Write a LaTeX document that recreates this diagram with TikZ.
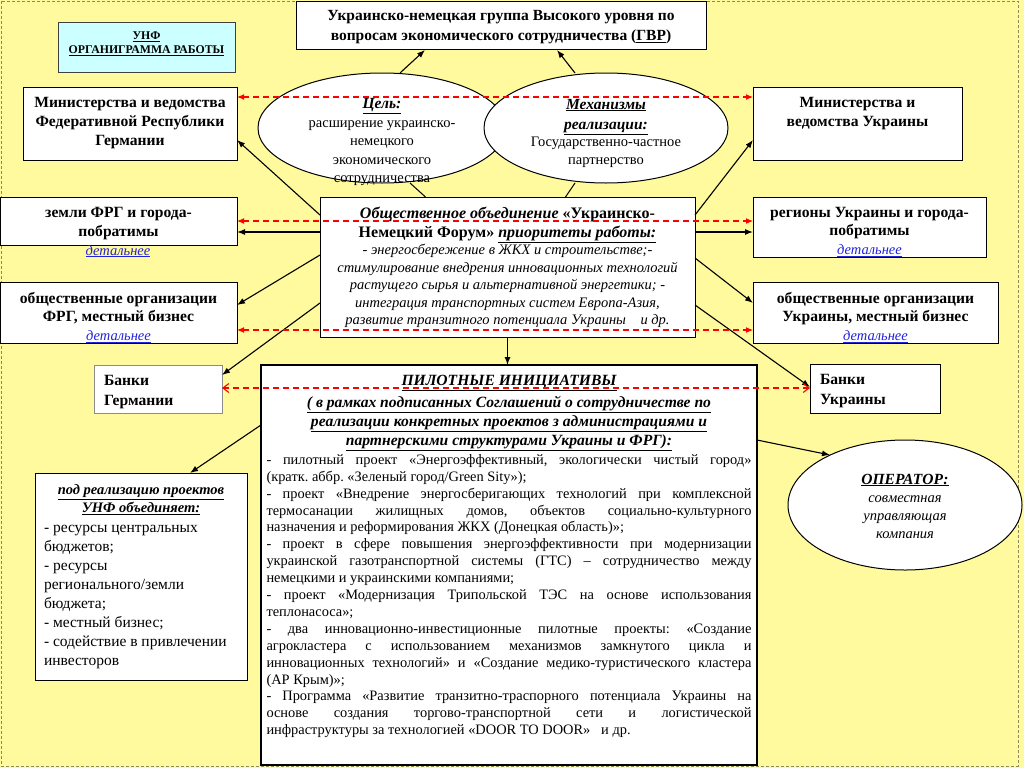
\documentclass[tikz,border=0pt]{standalone}
\usepackage{fontspec}
\setmainfont{Liberation Serif}
\usetikzlibrary{arrows.meta,shapes.geometric,calc}
\definecolor{bg}{HTML}{FFFA9E}
\definecolor{cyanbox}{HTML}{CCFFFF}
\definecolor{framecol}{HTML}{8A8A60}
\definecolor{linkblue}{HTML}{2222DD}
\newcommand{\fs}[2]{\fontsize{#1}{#2}\selectfont}
\newcommand{\tbox}[4]{\parbox[c][#2][t]{#1}{\vspace*{#3}\centering #4}}
\newcommand{\lnk}{\textcolor{linkblue}{\textit{\underline{детальнее}}}}
\newcommand{\biu}[1]{\textbf{\textit{\underline{#1}}}}
\begin{document}
\begin{tikzpicture}[x=1pt,y=-1pt,
  box/.style={draw=black, line width=1pt, fill=white, inner sep=0pt, outer sep=0pt, anchor=north west},
  ell/.style={ellipse, draw=black, line width=1pt, fill=white, inner sep=0pt, outer sep=0pt},
  etxt/.style={inner sep=0pt, align=center},
  arr/.style={-{Latex[length=8pt,width=6pt]}, line width=1.1pt, black},
  ln/.style={line width=1pt, black},
  rda/.style={{Latex[length=7pt,width=6pt]}-{Latex[length=7pt,width=6pt]}, red, dash pattern=on 6pt off 4pt, line width=1.1pt},
  rdb/.style={{Straight Barb[length=6pt,width=9pt]}-{Straight Barb[length=6pt,width=9pt]}, red, dash pattern=on 6pt off 4pt, line width=1.1pt}
]
\fill[bg] (0,0) rectangle (1024,768);
\useasboundingbox (0,0) rectangle (1024,768);
\draw[framecol, line width=0.8pt, dash pattern=on 3pt off 2pt] (1,1) rectangle (1018,766);

% boxes
\node[box, fill=cyanbox, draw=black!75] (unf) at (58,23) {\tbox{177pt}{49pt}{9pt}{\fs{11.8}{13.5}\textbf{\underline{УНФ}}\\\textbf{\underline{ОРГАНИГРАММА РАБОТЫ}}}};
\node[box] (gvr) at (296,2) {\tbox{410pt}{48pt}{8.5pt}{\fs{15.5}{20}\textbf{Украинско-немецкая группа Высокого уровня по}\\\textbf{вопросам экономического сотрудничества (\underline{ГВР})}}};
\node[box] (minFRG) at (23,87) {\tbox{214pt}{73pt}{10pt}{\fs{15.6}{19}\textbf{Министерства и ведомства}\\\textbf{Федеративной Республики}\\\textbf{Германии}}};
\node[box] (minUA) at (753,87) {\tbox{209pt}{73pt}{10pt}{\fs{15.6}{19}\textbf{Министерства и}\\\textbf{ведомства Украины}}};
\node[box] (zemli) at (0,197) {\tbox{237pt}{48pt}{10pt}{\fs{15.6}{19}\textbf{земли ФРГ и города-}\\\textbf{побратимы}}};
\node[anchor=base, inner sep=0pt, font=\fs{14.5}{17}] (linkZ) at (118,255) {\lnk};
\node[box] (obFRG) at (0,282) {\tbox{237pt}{61pt}{10pt}{\fs{15.6}{18.7}\textbf{общественные организации}\\\textbf{ФРГ, местный бизнес}\\{\fs{14.5}{18.5}\lnk}}};
\node[box, draw=black!45] (bankDE) at (94,365) {\parbox[c][48pt][t]{128pt}{\vspace*{10pt}\raggedright\fs{15.6}{20}\hspace*{10pt}\textbf{Банки}\\\hspace*{10pt}\textbf{Германии}}};
\node[box] (regions) at (753,197) {\tbox{233pt}{60pt}{10pt}{\fs{15.6}{18.7}\textbf{регионы Украины и города-}\\\textbf{побратимы}\\{\fs{14.5}{18.5}\lnk}}};
\node[box] (obUA) at (753,282) {\tbox{245pt}{61pt}{10pt}{\fs{15.6}{18.7}\textbf{общественные организации}\\\textbf{Украины, местный бизнес}\\{\fs{14.5}{18.5}\lnk}}};
\node[box] (bankUA) at (810,364) {\parbox[c][49pt][t]{130pt}{\vspace*{10pt}\raggedright\fs{15.6}{20}\hspace*{10pt}\textbf{Банки}\\\hspace*{10pt}\textbf{Украины}}};

\node[box] (forum) at (320,197) {\parbox[c][140pt][t]{375pt}{\vspace*{10pt}\centering
\fs{16}{19}\textbf{\textit{Общественное объединение} «Украинско-}\\
\textbf{Немецкий Форум» \textit{\underline{приоритеты работы:}}}\\
\fs{14.5}{17.5}\itshape - энергосбережение в ЖКХ и строительстве;-\\стимулирование внедрения инновационных технологий\\растущего сырья и альтернативной энергетики; -\\интеграция транспортных систем Европа-Азия,\\развитие транзитного потенциала Украины \ \ \ и др.\par}};

\node[box, line width=1.2pt] (pilot) at (261,365) {\parbox[c][400pt][t]{496pt}{\vspace*{10pt}\centering
\fs{15.6}{19}\biu{ПИЛОТНЫЕ ИНИЦИАТИВЫ}\\[3pt]
\biu{( в рамках подписанных Соглашений о сотрудничестве по}\\
\biu{реализации конкретных проектов з администрациями и}\\
\biu{партнерскими структурами Украины и ФРГ):}\par\vspace{0pt}
\begin{minipage}[t]{485pt}\fs{14.4}{16.9}\tolerance=10000\pretolerance=-1\hbadness=10000\hfuzz=20pt\hyphenpenalty=10000\adjdemerits=0\parindent=0pt\frenchspacing\spaceskip=0.25em plus 1.5em minus 0.15em
- пилотный проект «Энергоэффективный, экологически чистый город»\linebreak (кратк. аббр. «Зеленый город/Green Sity»);\par
- проект «Внедрение энергосберигающих технологий при комплексной\linebreak термосанации жилищных домов, объектов социально-культурного\linebreak назначения и реформирования ЖКХ (Донецкая область)»;\par
- проект в сфере повышения энергоэффективности при модернизации\linebreak украинской газотранспортной системы (ГТС) – сотрудничество между\linebreak немецкими и украинскими компаниями;\par
- проект «Модернизация Трипольской ТЭС на основе использования\linebreak теплонасоса»;\par
- два инновационно-инвестиционные пилотные проекты: «Создание\linebreak агрокластера с использованием механизмов замкнутого цикла и\linebreak инновационных технологий» и «Создание медико-туристического кластера\linebreak (АР Крым)»;\par
- Программа «Развитие транзитно-траспорного потенциала Украины на\linebreak основе создания торгово-транспортной сети и логистической\linebreak \mbox{инфраструктуры за технологией «DOOR TO DOOR»\ \ \ и др.}\par
\end{minipage}}};

\node[box] (leftbox) at (35,473) {\parbox[c][207pt][c]{212pt}{\centering\fs{14.5}{18}\biu{под реализацию проектов}\\\biu{УНФ объединяет:}\par\vspace{1pt}
\raggedright\leftskip=9pt\fs{15.5}{19}- ресурсы центральных\\бюджетов;\\- ресурсы\\регионального/земли\\бюджета;\\- местный бизнес;\\- содействие в привлечении\\инвесторов\par}};

% ellipses
\node[ell, minimum width=248pt, minimum height=110pt] (goal) at (382,128) {};
\node[ell, minimum width=244pt, minimum height=110pt] (mech) at (606,128) {};
\node[ell, minimum width=234pt, minimum height=130pt] (operator) at (905,505) {};
\node[etxt] (goaltxt) at (382,142) {\parbox{200pt}{\centering\fs{15.5}{18.5}\biu{Цель:}\\\fs{14.5}{18.5}расширение украинско-\\немецкого\\экономического\\сотрудничества}};
\node[etxt] (mechtxt) at (606,133) {\parbox{200pt}{\centering\fs{15.5}{18}\biu{Механизмы}\\[2pt]\biu{реализации:}\\\fs{14.5}{17.5}Государственно-частное\\партнерство}};
\node[etxt] (optxt) at (905,506) {\parbox{200pt}{\centering\fs{15.5}{18}\biu{ОПЕРАТОР:}\\\fs{14.5}{18}\itshape совместная\\управляющая\\компания}};

% black connectors
\draw[arr] ([xshift=18pt]goal.north) -- ([xshift=-76pt]gvr.south);
\draw[arr] ([xshift=-31pt]mech.north) -- ([xshift=56pt]gvr.south);
\draw[ln] ([xshift=28pt]goal.south) -- ([xshift=-82pt]forum.north);
\draw[ln] ([xshift=-31pt]mech.south) -- ([xshift=58pt]forum.north);
\draw[arr] ([yshift=-18pt]forum.north west) -- ([yshift=20pt]minFRG.south east);
\draw[arr] ([yshift=-18pt]forum.north east) -- ([yshift=20pt]minUA.south west);
\coordinate (fl) at ([yshift=-35pt]forum.north west);
\coordinate (fr) at ([yshift=-35pt]forum.north east);
\draw[arr] (fl) -- (fl -| zemli.east);
\draw[arr] (fr) -- (fr -| regions.west);
\draw[arr] ([yshift=-58pt]forum.north west) -- ([yshift=-23pt]obFRG.north east);
\draw[arr] ([yshift=-61pt]forum.north east) -- ([yshift=-21pt]obUA.north west);
\draw[arr] ([yshift=-106pt]forum.north west) -- ([yshift=-10pt]bankDE.north east);
\draw[arr] ([yshift=-108pt]forum.north east) -- ([yshift=-23pt]bankUA.north west);
\draw[arr] (forum.south) -- (forum.south |- pilot.north);
\draw[arr] ([yshift=-60pt]pilot.north west) -- ([xshift=49pt]leftbox.north);
\draw[arr] ([yshift=-75pt]pilot.north east) -- ([shift={(-75pt,50pt)}]operator.center);

% red dashed connectors
\coordinate (r1) at ([yshift=-10pt]minFRG.north east);
\coordinate (r2) at ([yshift=-24pt]zemli.north east);
\coordinate (r3) at ([yshift=-48pt]obFRG.north east);
\coordinate (r4) at ([yshift=-23pt]bankDE.north east);
\draw[rda] (r1) -- (r1 -| minUA.west);
\draw[rda] (r2) -- (r2 -| regions.west);
\draw[rda] (r3) -- (r3 -| obUA.west);
\draw[rdb] (r4) -- (r4 -| bankUA.west);
\end{tikzpicture}
\end{document}
